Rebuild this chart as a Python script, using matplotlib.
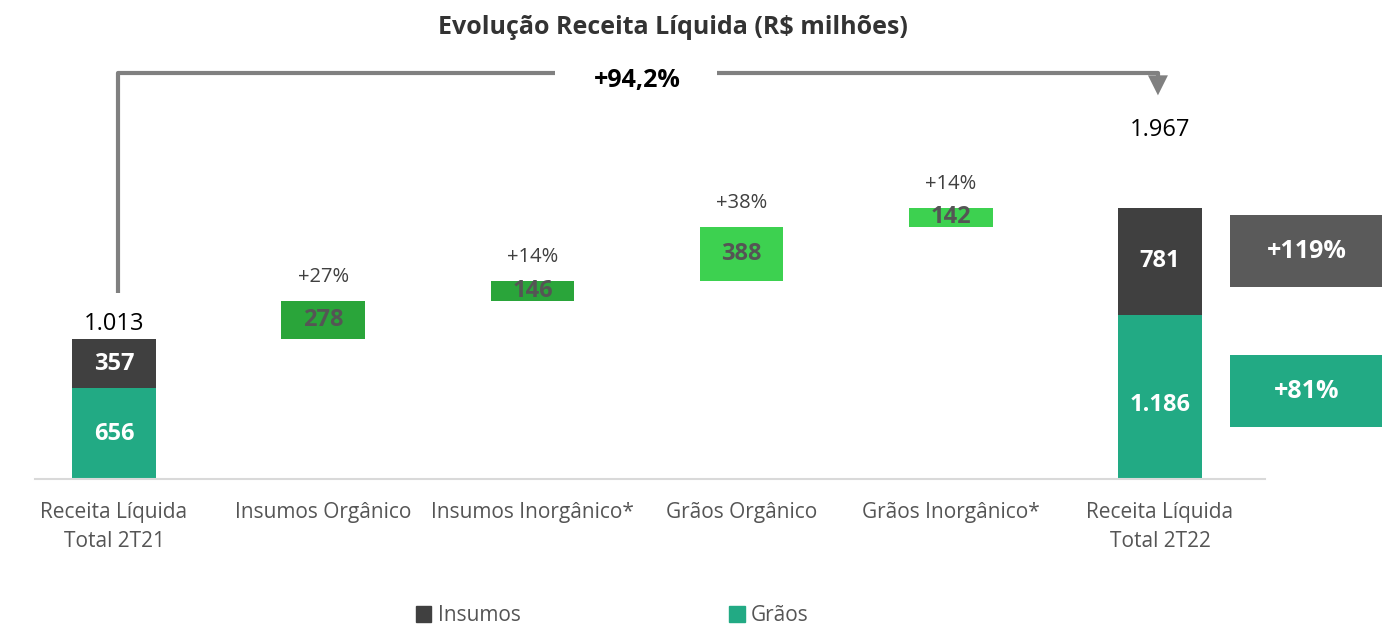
import matplotlib.pyplot as plt
from matplotlib.patches import Patch

plt.rcParams['font.family'] = ['Open Sans', 'DejaVu Sans']

# data
categories = ['Receita Líquida\nTotal 2T21', 'Insumos Orgânico', 'Insumos Inorgânico*',
              'Grãos Orgânico', 'Grãos Inorgânico*', 'Receita Líquida\nTotal 2T22']
start_insumos = 357
start_graos = 656
start_total = '1.013'
steps = [278, 146, 388, 142]
step_labels = ['278', '146', '388', '142']
step_pct = ['+27%', '+14%', '+38%', '+14%']
end_insumos = 781
end_graos = 1186
end_labels = ['781', '1.186']
end_total = '1.967'
growth_total = '+94,2%'
growth_insumos = '+119%'
growth_graos = '+81%'

c_ins = '#404040'
c_gra = '#22aa84'
step_colors = ['#2aa53a', '#2aa53a', '#3dd150', '#3dd150']

fig = plt.figure(figsize=(13.82, 6.24), dpi=100)
ax = fig.add_axes([0, 0, 1, 1])
ax.set_xlim(-0.545, 6.061)
ax.set_ylim(-1051, 3471)
ax.axis('off')

w = 0.40
# first stacked bar
ax.bar(0, start_graos, width=w, color=c_gra)
ax.bar(0, start_insumos, bottom=start_graos, width=w, color=c_ins)
ax.text(0, start_graos / 2, str(start_graos), ha='center', va='center', color='white',
        fontsize=17, fontweight='bold')
ax.text(0, start_graos + start_insumos / 2, str(start_insumos), ha='center', va='center',
        color='white', fontsize=17, fontweight='bold')
ax.text(0, start_graos + start_insumos + 25, start_total, ha='center', va='bottom',
        color='black', fontsize=17)

# waterfall steps
base = start_graos + start_insumos
for i, v in enumerate(steps):
    x = i + 1
    ax.bar(x, v, bottom=base, width=w, color=step_colors[i])
    ax.text(x, base + v / 2, step_labels[i], ha='center', va='center', color='#555555',
            fontsize=17, fontweight='bold')
    ax.text(x, base + v + 100, step_pct[i], ha='center', va='bottom', color='#404040',
            fontsize=14.5)
    base += v

# final stacked bar
ax.bar(5, end_graos, width=w, color=c_gra)
ax.bar(5, end_insumos, bottom=end_graos, width=w, color=c_ins)
ax.text(5, end_graos / 2 - 60, end_labels[1], ha='center', va='center', color='white',
        fontsize=17, fontweight='bold')
ax.text(5, end_graos + end_insumos / 2, end_labels[0], ha='center', va='center',
        color='white', fontsize=17, fontweight='bold')
ax.text(5, 2530, end_total, ha='center', va='center', color='black', fontsize=17)

# growth boxes on the right
ax.bar(5.70, 522, bottom=1391, width=0.73, color='#5a5a5a')
ax.text(5.70, 1652, growth_insumos, ha='center', va='center', color='white',
        fontsize=18, fontweight='bold')
ax.bar(5.70, 521, bottom=377, width=0.73, color=c_gra)
ax.text(5.70, 637, growth_graos, ha='center', va='center', color='white',
        fontsize=18, fontweight='bold')

# baseline
ax.plot([-0.38, 5.50], [0, 0], color='#d9d9d9', lw=1.5)

# connector arrow
gc = '#808080'
ax.plot([0.02, 0.02, 2.11], [1348, 2942, 2942], color=gc, lw=3, solid_capstyle='butt')
ax.plot([2.88, 4.99, 4.99], [2942, 2942, 2850], color=gc, lw=3, solid_capstyle='butt')
ax.annotate('', xy=(4.99, 2760), xytext=(4.99, 2880),
            arrowprops=dict(arrowstyle='-|>,head_width=0.45,head_length=0.9',
                            mutation_scale=16, color=gc, lw=0))
ax.text(2.50, 2890, growth_total, ha='center', va='center', color='black',
        fontsize=18, fontweight='bold')

# title
ax.text(2.67, 3269, 'Evolução Receita Líquida (R$ milhões)', ha='center', va='center',
        color='#333333', fontsize=18, fontweight='bold')

# category labels
for i, c in enumerate(categories):
    ax.text(i, -170, c, ha='center', va='top', color='#555555', fontsize=15,
            linespacing=1.45)

# legend
handles = [Patch(color=c_ins, label='Insumos'), Patch(color=c_gra, label='Grãos')]
fig.legend(handles=handles, loc='center', bbox_to_anchor=(0.443, 0.013), ncol=2,
           frameon=False, fontsize=15, handlelength=0.75, handleheight=0.75,
           handletextpad=0.3, columnspacing=10, labelcolor='#555555')

fig.savefig('out.png', dpi=100)
